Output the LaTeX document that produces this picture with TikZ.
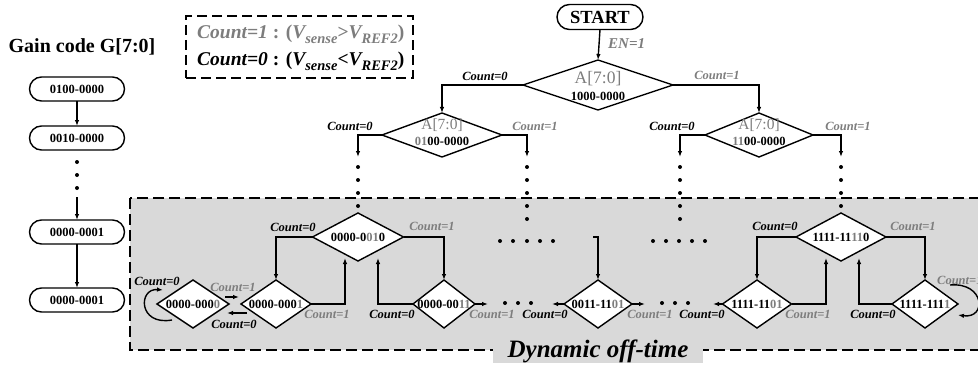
\documentclass[tikz,border=0pt]{standalone}
\usepackage{fontspec}
\setmainfont{Liberation Serif}
\usetikzlibrary{shapes.geometric,shapes.misc,arrows.meta,calc}
\definecolor{txtgray}{RGB}{125,125,125}
\definecolor{zonegray}{RGB}{217,217,217}
\newcommand{\gd}[1]{\textcolor{txtgray}{#1}}
\newcommand{\fsz}[1]{\fontsize{#1}{#1}\selectfont}
\newcommand{\lowsub}[1]{\raisebox{-5pt}{\fontsize{14.5}{14.5}\selectfont #1}}
\begin{document}
\begin{tikzpicture}[x=1pt,y=-1pt,
  wire/.style={line width=1.4pt},
  arr/.style={wire,-{Latex[length=6pt,width=4.5pt]}},
  code/.style={font=\fsz{12.5}\bfseries,inner sep=0},
  dia/.style={draw,fill=white,line width=1.4pt,shape=diamond,inner sep=0,outer sep=0,minimum width=#1,minimum height=48pt},
  updia/.style={draw,line width=1.4pt,shape=diamond,inner sep=0,outer sep=0,minimum width=#1,minimum height=44pt},
  stad/.style={draw,rounded rectangle,line width=1.4pt,inner sep=0,outer sep=0,minimum width=95pt,minimum height=24pt,font=\fsz{12.5}\bfseries},
  lab0/.style={font=\fsz{12.5}\bfseries\itshape,inner sep=0},
  lab1/.style={lab0,text=txtgray},
  aname/.style={font=\fsz{#1},text=txtgray,inner sep=0},
  zone/.style={fill=zonegray,draw,line width=1.4pt,dash pattern=on 11pt off 5pt},
  legbox/.style={draw,line width=1.4pt,dash pattern=on 10pt off 5pt,inner sep=0,minimum width=227pt,minimum height=62pt}
]
\useasboundingbox (0,0) rectangle (978,369);

% ---------- shaded region ----------
\path[zone] (130,198) rectangle (995,350);
\node[fill=zonegray,inner sep=0,minimum width=210pt,minimum height=24pt,font=\fsz{25}\bfseries\itshape] (dyn) at (598,351) {Dynamic off-time};

% ---------- gain code column ----------
\node[font=\fsz{20}\bfseries,inner sep=0] (title) at (82,47) {Gain code G[7:0]};
\node[stad] (g1) at (77,89) {0100-0000};
\node[stad] (g2) at (77,138) {0010-0000};
\node[stad] (g3) at (77,232) {0000-0001};
\node[stad] (g4) at (77,300) {0000-0001};
\coordinate (gd) at (77,197);
\draw[arr] (g1.south) -- (g2.north);
\foreach \y in {162,175,188} \fill (77,\y) circle (2pt);
\draw[arr] (gd) -- (g3.north);
\draw[arr] (g3.south) -- (g4.north);

% ---------- legend ----------
\node[legbox] (legend) at (299.5,47) {};
\node[anchor=west,font=\fsz{19.5}\bfseries,text=txtgray,inner sep=0] (leg1) at (197,34)
  {\textit{Count=1} : (\textit{V\lowsub{sense}}>\textit{V\lowsub{REF2}})};
\node[anchor=west,font=\fsz{19.5}\bfseries,inner sep=0] (leg0) at (197,61)
  {\textit{Count=0} : (\textit{V\lowsub{sense}}<\textit{V\lowsub{REF2}})};

% ---------- search tree, upper levels ----------
\node[stad,minimum width=86pt,minimum height=25pt,font=\fsz{18.5}\bfseries] (start) at (600,17) {START};
\node[lab1,font=\fsz{15}\bfseries\itshape,anchor=west] (en) at (608,44) {EN=1};

\node[draw,line width=1.4pt,shape=diamond,inner sep=0,outer sep=0,minimum width=150pt,minimum height=50pt] (a1) at (598,85) {};
\node[aname=17.5] (a1n) at (598,79) {A[7:0]};
\node[code] (a1c) at (598,96) {1000-0000};
\draw[arr] (start.south) -- (a1.north);

\node[updia=120pt] (b1) at (442,135) {};
\node[aname=15.5] (b1n) at (442,125) {A[7:0]};
\node[code] (b1c) at (442,141) {\gd{01}00-0000};
\node[updia=108pt] (b2) at (759,135) {};
\node[aname=15.5] (b2n) at (759,125) {A[7:0]};
\node[code] (b2c) at (759,141) {\gd{11}00-0000};

\draw[arr] (a1.west) -| (b1.north);
\draw[arr] (a1.east) -| (b2.north);
\node[lab0] (la1l) at (485,76) {Count=0};
\node[lab1] (la1r) at (717,75) {Count=1};

\coordinate (b1l) at (358,157);
\coordinate (b1r) at (527,157);
\coordinate (b2l) at (680,157);
\coordinate (b2r) at (841,157);
\draw[arr] (b1.west) -| (b1l);
\draw[arr] (b1.east) -| (b1r);
\draw[arr] (b2.west) -| (b2l);
\draw[arr] (b2.east) -| (b2r);
\node[lab0] (lb1l) at (350,126) {Count=0};
\node[lab1] (lb1r) at (535,126) {Count=1};
\node[lab0] (lb2l) at (672,126) {Count=0};
\node[lab1] (lb2r) at (848,126) {Count=1};

\foreach \y in {167,180,193,206} {\fill (358,\y) circle (2pt); \fill (841,\y) circle (2pt);}
\foreach \y in {167,180,193,206,219} {\fill (527,\y) circle (2pt); \fill (680,\y) circle (2pt);}

% ---------- lowest levels ----------
\node[dia=72pt] (c0) at (193,304) {};
\node[code] (c0t) at (c0) {0000-000\gd{0}};
\node[dia=70pt] (c1) at (276,304) {};
\node[code] (c1t) at (c1) {0000-000\gd{1}};
\node[dia=91pt] (c2) at (358,237) {};
\node[code] (c2t) at (c2) {0000-0\gd{01}0};
\node[dia=62pt] (c3) at (444,304) {};
\node[code] (c3t) at (c3) {0000-00\gd{11}};
\node[dia=68pt] (c4) at (598,304) {};
\node[code] (c4t) at (c4) {0011-11\gd{01}};
\node[dia=90pt] (c5) at (841,237) {};
\node[code] (c5t) at (c5) {1111-11\gd{11}0};
\node[dia=69pt] (c6) at (757,304) {};
\node[code] (c6t) at (c6) {1111-11\gd{01}};
\node[dia=66pt] (c7) at (925,304) {};
\node[code] (c7t) at (c7) {1111-111\gd{1}};

% connectors around 0000-0010
\draw[arr] (c2.west) -| (c1.north);
\draw[arr] (c2.east) -| (c3.north);
\draw[arr] (c1.east) -| ($(c2.south)+(-13,-3)$);
\draw[arr] (c3.west) -| ($(c2.south)+(20,-3)$);
\node[lab0] (lc2l) at (293,227) {Count=0};
\node[lab1] (lc2r) at (432,226) {Count=1};
\node[lab1] (lc1r) at (327,314) {Count=1};
\node[lab0] (lc3l) at (392,314) {Count=0};
\coordinate (c3e) at (488,304);
\draw[arr] (c3.east) -- (c3e);
\node[lab1] (lc3r) at (492,314) {Count=1};

% 0000-0000 <-> 0000-0001
\draw[arr] ($(c0.east)+(-4,-7)$) -- ($(c1.west)+(-2,-7)$);
\draw[arr] ($(c1.west)+(6,9)$) -- ($(c0.east)+(-2,9)$);
\node[lab1] (lc01) at (233,287) {Count=1};
\node[lab0] (lc10) at (234,324) {Count=0};
\draw[arr] ($(c0.center)+(-21,16)$) .. controls ($(c0.center)+(-55,22)$) and ($(c0.center)+(-55,-16)$) .. ($(c0.center)+(-30,-14)$);
\node[lab0] (lc00) at (157,281) {Count=0};

% middle of the sweep
\coordinate (c4in) at (593,237);
\draw[arr] (c4in) -| (c4.north);
\coordinate (c4w) at (552,304);
\coordinate (c4e) at (645,304);
\draw[arr] (c4.west) -- (c4w);
\draw[arr] (c4.east) -- (c4e);
\node[lab0] (lc4l) at (545,314) {Count=0};
\node[lab1] (lc4r) at (650,314) {Count=1};

\foreach \x in {505,518,531,662,675,688} \fill (\x,303) circle (2pt);
\foreach \x in {500,513,527,540,553,653,666,679,692,705} \fill (\x,241) circle (2pt);

% connectors around 1111-11110
\draw[arr] (c5.west) -| (c6.north);
\draw[arr] (c5.east) -| (c7.north);
\node[lab0] (lc5l) at (775,226) {Count=0};
\node[lab1] (lc5r) at (913,226) {Count=1};
\coordinate (c6w) at (713,304);
\draw[arr] (c6.west) -- (c6w);
\node[lab0] (lc6l) at (702,314) {Count=0};
\draw[arr] (c6.east) -| ($(c5.south)+(-15,-3)$);
\node[lab1] (lc6r) at (808,314) {Count=1};
\draw[arr] (c7.west) -| ($(c5.south)+(18,-3)$);
\node[lab0] (lc7l) at (873,314) {Count=0};
\draw[arr] ($(c7.center)+(25,-19)$) .. controls ($(c7.center)+(60,-22)$) and ($(c7.center)+(62,15)$) .. ($(c7.center)+(33,11)$);
\node[lab1,anchor=west] (lc77) at (937,280) {Count=1};
\end{tikzpicture}
\end{document}
